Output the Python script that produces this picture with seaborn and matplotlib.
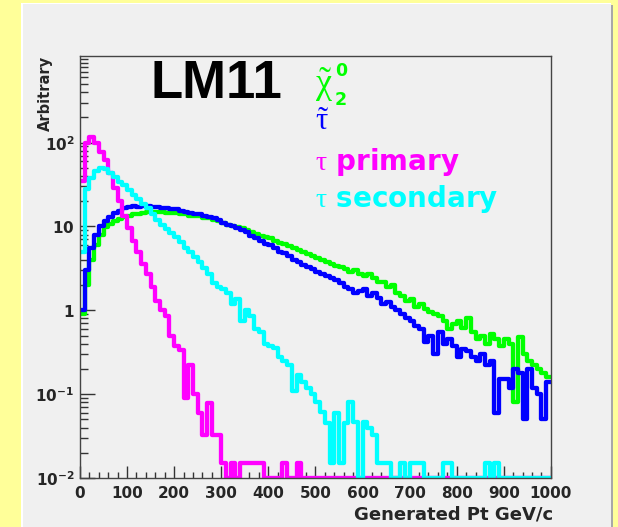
import numpy as np
import pandas as pd
import matplotlib
matplotlib.use("Agg")
import matplotlib.pyplot as plt
from matplotlib.patches import Rectangle
from matplotlib.ticker import FixedLocator, MultipleLocator, NullFormatter
import seaborn as sns

# Histogram binning (10 GeV bins from 0 to 1000 GeV)
bin_width = 10
pt_range = (0, 1000)
pt_centers = np.arange(pt_range[0], pt_range[1], bin_width) + bin_width / 2

# One value per bin (0 = empty bin)
chi2_vals = [0.9, 2.0, 4.0, 6.0, 8.0, 9.8, 10.8, 11.5, 12.3, 13.0,
             13.5, 14.0, 14.0, 14.5, 15.0, 15.0, 15.0, 15.0, 14.5, 14.5,
             14.5, 14.0, 14.0, 13.5, 13.5, 13.2, 12.8, 12.5, 12.0, 11.5,
             11.0, 10.5, 10.2, 9.8, 9.5, 9.0, 8.5, 8.2, 7.8, 7.5,
             7.2, 6.8, 6.4, 6.1, 5.8, 5.5, 5.2, 4.9, 4.7, 4.4,
             4.2, 4.0, 3.8, 3.6, 3.4, 3.3, 3.1, 2.9, 3.0, 2.7,
             2.6, 2.7, 2.4, 2.2, 2.2, 1.9, 2.0, 1.6, 1.5, 1.3,
             1.35, 1.1, 1.2, 1.05, 0.95, 0.9, 0.85, 0.75, 0.6, 0.68,
             0.75, 0.62, 0.8, 0.55, 0.45, 0.5, 0.4, 0.52, 0.45, 0.38,
             0.45, 0.4, 0.08, 0.48, 0.3, 0.25, 0.22, 0.2, 0.18, 0.16]

stau_vals = [1.0, 3.0, 5.5, 8.0, 10.0, 11.5, 13.0, 14.5, 15.5, 16.5,
             17.0, 17.5, 17.0, 17.5, 17.5, 17.0, 17.0, 16.5, 16.5, 16.0,
             16.0, 15.5, 15.0, 14.5, 14.0, 14.0, 13.5, 13.0, 12.5, 12.0,
             11.0, 10.5, 10.0, 9.5, 9.0, 8.5, 7.8, 7.2, 6.8, 6.2,
             6.0, 5.5, 5.0, 4.8, 4.4, 4.0, 3.8, 3.5, 3.3, 3.1,
             2.9, 2.7, 2.6, 2.4, 2.3, 2.1, 1.9, 1.8, 1.6, 1.7,
             1.8, 1.5, 1.6, 1.4, 1.2, 1.25, 1.1, 1.0, 0.9, 0.8,
             0.75, 0.65, 0.6, 0.42, 0.5, 0.3, 0.55, 0.4, 0.45, 0.38,
             0.28, 0.35, 0.33, 0.28, 0.25, 0.3, 0.22, 0.25, 0.06, 0.15,
             0.15, 0.12, 0.2, 0.18, 0.05, 0.2, 0.12, 0.1, 0.05, 0.14]

tau_primary_vals = [35, 100, 117, 98, 78, 62, 43, 29, 20, 13.5,
                    9.5, 6.8, 5.0, 3.6, 2.7, 1.9, 1.3, 1.0, 0.85, 0.5,
                    0.38, 0.34, 0.09, 0.22, 0.1, 0.06, 0.033, 0.078, 0.033, 0.033,
                    0.015, 0, 0.015, 0, 0.015, 0.015, 0.015, 0.015, 0.015, 0,
                    0, 0, 0, 0.015, 0, 0, 0.015, 0, 0, 0,
                    0, 0, 0, 0, 0, 0, 0, 0, 0, 0,
                    0, 0, 0, 0, 0, 0, 0, 0, 0, 0,
                    0, 0, 0, 0, 0, 0, 0, 0, 0, 0,
                    0, 0, 0, 0, 0, 0, 0, 0, 0, 0,
                    0, 0, 0, 0, 0, 0, 0, 0, 0, 0]

tau_secondary_vals = [5, 28, 38, 46, 50, 48, 44, 39, 34, 31,
                      27, 24, 21, 18.5, 16.5, 14, 12, 10.5, 9.3, 8.3,
                      7.5, 6.6, 5.6, 5.0, 4.3, 3.8, 3.2, 2.7, 2.1, 1.9,
                      1.8, 1.6, 1.2, 1.35, 0.75, 1.0, 0.85, 0.6, 0.55, 0.4,
                      0.38, 0.36, 0.28, 0.25, 0.22, 0.11, 0.17, 0.14, 0.12, 0.1,
                      0.08, 0.062, 0.045, 0.015, 0.06, 0.015, 0.045, 0.08, 0.046, 0,
                      0.046, 0.04, 0.033, 0.015, 0.015, 0.015, 0, 0, 0.015, 0,
                      0.015, 0.015, 0.015, 0, 0, 0, 0, 0.015, 0.015, 0,
                      0, 0, 0, 0, 0, 0, 0.015, 0, 0.015, 0,
                      0, 0, 0, 0, 0, 0, 0, 0, 0, 0]

y_ticks = [0.01, 0.1, 1, 10, 100]
y_tick_labels = [r'$\mathbf{10^{-2}}$', r'$\mathbf{10^{-1}}$', r'$\mathbf{1}$',
                 r'$\mathbf{10}$', r'$\mathbf{10^{2}}$']

y_min, y_max = 0.01, 1080

sns.set_style("ticks")
plt.rcParams['font.family'] = ['DejaVu Sans']
plt.rcParams['mathtext.fontset'] = 'custom'
plt.rcParams['mathtext.rm'] = 'Liberation Serif'
plt.rcParams['mathtext.it'] = 'Liberation Serif'
plt.rcParams['mathtext.bf'] = 'DejaVu Sans:bold'

fig = plt.figure(figsize=(6.18, 5.27), dpi=100)
fig.patch.set_facecolor('#ffff99')
# grey canvas panel with a light bevel
fig.add_artist(Rectangle((0.034, 0.0), 0.9547, 0.9937, transform=fig.transFigure,
                         facecolor='#f0f0f0', edgecolor='none', zorder=0))
fig.add_artist(Rectangle((0.034, 0.0), 0.0025, 0.9937, transform=fig.transFigure,
                         facecolor='#ffffff', edgecolor='none', zorder=0))
fig.add_artist(Rectangle((0.034, 0.9918), 0.9547, 0.0019, transform=fig.transFigure,
                         facecolor='#ffffff', edgecolor='none', zorder=0))
fig.add_artist(Rectangle((0.9887, 0.0), 0.0035, 0.990, transform=fig.transFigure,
                         facecolor='#a8a8a8', edgecolor='none', zorder=0))

ax = fig.add_axes([0.1294, 0.093, 0.762, 0.8007])
ax.set_facecolor('#f0f0f0')

# draw the four histograms (empty bins sit on the lower edge)
series = [(chi2_vals, '#00ff00'), (stau_vals, '#0000ff'),
          (tau_primary_vals, '#ff00ff'), (tau_secondary_vals, '#00ffff')]
for vals, col in series:
    df = pd.DataFrame({'pt': pt_centers,
                       'w': np.maximum(np.array(vals, dtype=float), y_min)})
    sns.histplot(data=df, x='pt', weights='w', binwidth=bin_width,
                 binrange=pt_range, element='step', fill=False, color=col,
                 linewidth=3.1, ax=ax)

ax.set_yscale('log')
ax.set_xlim(0, 1000)
ax.set_ylim(y_min, y_max)

ax.set_yticks(y_ticks, y_tick_labels)
minor_y = [m * 10.0 ** e for e in range(-2, 3) for m in range(2, 10)] + [1000]
ax.yaxis.set_minor_locator(FixedLocator(minor_y))
ax.yaxis.set_minor_formatter(NullFormatter())
ax.xaxis.set_major_locator(MultipleLocator(100))
ax.xaxis.set_minor_locator(MultipleLocator(20))

for s in ax.spines.values():
    s.set_color('#444444')
    s.set_linewidth(1.0)

ax.tick_params(axis='y', which='major', direction='in', length=10.5, width=1,
               color='#333333', labelsize=11, pad=4)
ax.tick_params(axis='y', which='minor', direction='in', length=5.5, width=1,
               color='#333333')
ax.tick_params(axis='x', which='major', direction='in', length=8.5, width=1,
               color='#333333', labelsize=11, pad=6)
ax.tick_params(axis='x', which='minor', direction='in', length=4.3, width=1,
               color='#333333')
for lab in ax.get_xticklabels():
    lab.set_fontweight('bold')

ax.set_xlabel('Generated Pt GeV/c', fontsize=13, fontweight='bold', loc='right')
ax.xaxis.set_label_coords(1.004, -0.066)
ax.set_ylabel('Arbitrary', fontsize=10.5, fontweight='bold', loc='top')
ax.yaxis.set_label_coords(-0.057, 1.0)

# labels inside the frame
ax.text(0.150, 0.900, 'LM11', transform=ax.transAxes, fontsize=38,
        fontweight='bold', family='Liberation Sans', color='black', va='baseline')
ax.text(0.500, 0.978, r'$\tilde{\chi}$', transform=ax.transAxes,
        fontsize=26, color='#00ff00', va='top')
ax.text(0.541, 0.985, '0', transform=ax.transAxes, fontsize=12.5,
        fontweight='bold', color='#00ff00', va='top')
ax.text(0.541, 0.884, '2', transform=ax.transAxes, fontsize=12.5,
        fontweight='bold', color='#00ff00', va='baseline')
ax.text(0.500, 0.880, r'$\tilde{\tau}$', transform=ax.transAxes,
        fontsize=22, color='#0000ff', va='top')
ax.text(0.500, 0.730, r'$\tau$ primary', transform=ax.transAxes,
        fontsize=20, fontweight='bold', color='#ff00ff', va='baseline')
ax.text(0.500, 0.642, r'$\tau$ secondary', transform=ax.transAxes,
        fontsize=20, fontweight='bold', color='#00ffff', va='baseline')

fig.savefig('out.png', dpi=100, facecolor=fig.get_facecolor())
